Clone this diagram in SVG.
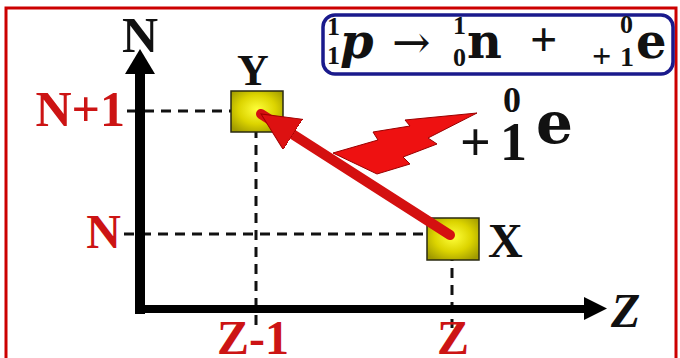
<svg xmlns="http://www.w3.org/2000/svg" width="680" height="358" viewBox="0 0 680 358">
  <defs>
    <radialGradient id="yel" cx="0.5" cy="0.45" r="0.65">
      <stop offset="0" stop-color="#ffff3a"/>
      <stop offset="0.55" stop-color="#dcd400"/>
      <stop offset="1" stop-color="#a09a00"/>
    </radialGradient>
    <marker id="redhead" markerUnits="userSpaceOnUse" markerWidth="44" markerHeight="40" refX="38" refY="18" orient="auto">
      <path d="M0,0 L38,18 L0,36 Z" fill="#dd1111" stroke="#a00000" stroke-width="1"/>
    </marker>
    <style>
      .lab { font-family: "Liberation Serif", "Times New Roman", Times, "DejaVu Serif", serif; font-weight: bold; }
      .dv { font-family: "DejaVu Serif", serif; font-weight: bold; }
      .red { fill: #cc1414; }
      .blk { fill: #111; }
      .dash { stroke: #111; stroke-width: 3; stroke-dasharray: 10 7; fill: none; }
      .box { fill: url(#yel); stroke: #2a2a10; stroke-width: 1.5; }
    </style>
  </defs>

  <rect x="0" y="0" width="680" height="358" fill="#ffffff"/>
  <rect x="6" y="8" width="670" height="370" fill="none" stroke="#cc0000" stroke-width="3"/>

  <g id="connectors">
    <line class="dash" x1="127" y1="111" x2="257" y2="111"/>
    <line class="dash" x1="124" y1="234" x2="452" y2="234"/>
    <line class="dash" x1="256" y1="111" x2="256" y2="325"/>
    <line class="dash" x1="452" y1="234" x2="452" y2="328"/>
    <line x1="140" y1="314" x2="140" y2="70" stroke="#000" stroke-width="10"/>
    <polygon points="125,74 140,49 155,74" fill="#000"/>
    <line x1="135" y1="309" x2="590" y2="309" stroke="#000" stroke-width="8"/>
    <polygon points="584,297 607,308.5 584,320" fill="#000"/>
  </g>

  <g id="node-Y">
    <rect class="box" x="231" y="91" width="52" height="41"/>
    <text class="lab blk" x="253" y="85" font-size="44" text-anchor="middle">Y</text>
  </g>
  <g id="node-X">
    <rect class="box" x="427" y="218" width="52" height="42"/>
    <text class="lab blk" x="488" y="257" font-size="48">X</text>
  </g>

  <g id="decay-arrow">
    <line x1="450" y1="235" x2="261" y2="114" stroke="#d41010" stroke-width="10" stroke-linecap="round" marker-end="url(#redhead)"/>
  </g>

  <g id="axis-labels">
    <text class="lab blk" x="140" y="52" font-size="50" text-anchor="middle">N</text>
    <text class="lab blk" x="611" y="327" font-size="48" font-style="italic">Z</text>
    <text class="lab red" x="125" y="126" font-size="50" text-anchor="end">N+1</text>
    <text class="lab red" x="121" y="248" font-size="48" text-anchor="end">N</text>
    <text class="lab red" x="253" y="354" font-size="48" text-anchor="middle">Z-1</text>
    <text class="lab red" x="453" y="354" font-size="48" text-anchor="middle">Z</text>
  </g>

  <g id="positron">
    <polygon points="333,153 378,140 373,132 410,126 405,120 477,113 428,138 437,144 403,157 410,164 377,174" fill="#ee1111" stroke="#990000" stroke-width="1"/>
    <text class="lab blk" x="503" y="112" font-size="36">0</text>
    <text class="lab blk" x="460" y="160" font-size="54">+</text>
    <text class="lab blk" x="500" y="160" font-size="54">1</text>
    <text class="dv blk" x="536" y="143" font-size="58">e</text>
  </g>

  <g id="equation">
    <rect x="323" y="15" width="350" height="59" rx="12" fill="#ffffff" stroke="#1a1a8c" stroke-width="3.5"/>
    <text class="lab blk" x="327" y="35" font-size="26">1</text>
    <text class="lab blk" x="327" y="64" font-size="26">1</text>
    <text class="dv blk" x="340" y="58" font-size="48" font-style="italic">p</text>
    <text x="392" y="58" font-size="46" font-family="DejaVu Serif, serif" fill="#111">→</text>
    <text class="lab blk" x="453" y="34" font-size="26">1</text>
    <text class="lab blk" x="453" y="66" font-size="26">0</text>
    <text class="dv blk" x="467" y="58" font-size="48">n</text>
    <text class="lab blk" x="530" y="56" font-size="48">+</text>
    <text class="lab blk" x="620" y="33" font-size="26">0</text>
    <text class="lab blk" x="592" y="67" font-size="34">+</text>
    <text class="lab blk" x="620" y="66" font-size="28">1</text>
    <text class="dv blk" x="636" y="58" font-size="48">e</text>
  </g>
</svg>
